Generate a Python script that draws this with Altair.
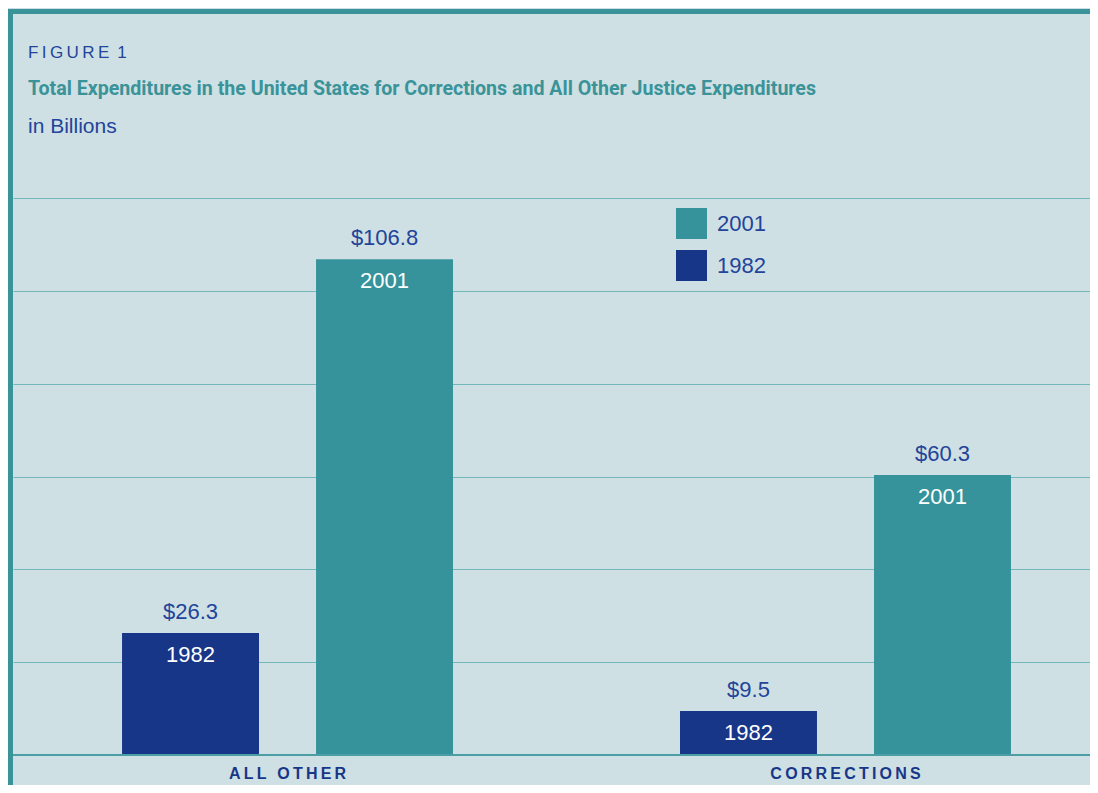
import altair as alt
import pandas as pd

categories = ["ALL OTHER", "ALL OTHER", "CORRECTIONS", "CORRECTIONS"]
years = ["1982", "2001", "1982", "2001"]
values = [26.3, 106.8, 9.5, 60.3]
value_labels = ["$26.3", "$106.8", "$9.5", "$60.3"]

title_lines = ["F\u2009I\u2009G\u2009U\u2009R\u2009E\u2009 1",
               "Total Expenditures in the United States for Corrections and All Other Justice Expenditures",
               "in Billions"]

df = pd.DataFrame({"cat": categories, "year": years, "value": values, "vlabel": value_labels})

TEAL = "#36939b"
NAVY = "#183688"
TEXTBLUE = "#22449a"
BG = "#cee0e3"
FONT = "Liberation Sans"

W, H = 1077, 557

xenc = alt.X("cat:N", title=None, sort=["ALL OTHER", "CORRECTIONS"],
             scale=alt.Scale(paddingInner=0.1236, paddingOuter=0.0269, align=1),
             axis=alt.Axis(labelAngle=0, ticks=False, domain=False,
                           labelFont=FONT, labelFontSize=16, labelFontWeight="bold",
                           labelColor=NAVY, labelPadding=10,
                           labelExpr="join(split(datum.label, ''), '\u2009')"))
xoff = alt.XOffset("year:N", sort=["1982", "2001"],
                   scale=alt.Scale(paddingInner=0.294, paddingOuter=0.4073))
yenc = alt.Y("value:Q", title=None, scale=alt.Scale(domain=[0, 120], nice=False),
             axis=alt.Axis(values=[0, 20, 40, 60, 80, 100, 120], labels=False, ticks=False,
                           domain=False, grid=True, gridColor="#74b7bb", gridWidth=1))

color = alt.Color("year:N", sort=["2001", "1982"],
                  scale=alt.Scale(domain=["2001", "1982"], range=[TEAL, NAVY]),
                  legend=alt.Legend(title=None, orient="none", legendX=663, legendY=10,
                                    symbolType="square", symbolSize=961, symbolStrokeWidth=0,
                                    symbolOpacity=1, labelFont=FONT, labelFontSize=22,
                                    labelColor=TEXTBLUE, rowPadding=11, labelOffset=10))

base = alt.Chart(df)

bars = base.mark_bar(opacity=1).encode(x=xenc, xOffset=xoff, y=yenc, color=color)

vlab = base.mark_text(font=FONT, fontSize=22, color=TEXTBLUE, baseline="alphabetic",
                      dy=-14).encode(x=xenc, xOffset=xoff, y=yenc, text="vlabel:N")

ylab = base.mark_text(font=FONT, fontSize=22, color="white", baseline="alphabetic",
                      dy=29).encode(x=xenc, xOffset=xoff, y=yenc, text="year:N")

baseline = alt.Chart(pd.DataFrame({"v": [0]})).mark_rule(color="#4a9ea4", strokeWidth=2).encode(
    y=alt.Y("v:Q", scale=alt.Scale(domain=[0, 120], nice=False)),
    x=alt.value(0), x2=alt.value(W))

t1 = alt.Chart(pd.DataFrame({"t": [title_lines[0]]})).mark_text(
    font=FONT, fontSize=17, color=TEXTBLUE, align="left", baseline="alphabetic").encode(
    text="t:N", x=alt.value(15), y=alt.value(-140))
t2 = alt.Chart(pd.DataFrame({"t": [title_lines[1]]})).mark_text(
    font="Liberation Sans Narrow, Roboto", fontSize=19.6, fontWeight="bold",
    color="#3a9399", align="left", baseline="alphabetic").encode(
    text="t:N", x=alt.value(15), y=alt.value(-103))
t3 = alt.Chart(pd.DataFrame({"t": [title_lines[2]]})).mark_text(
    font=FONT, fontSize=21, color=TEXTBLUE, align="left", baseline="alphabetic").encode(
    text="t:N", x=alt.value(15), y=alt.value(-65))

border_top = alt.Chart(pd.DataFrame({"v": [0]})).mark_rule(color="#3a9399", strokeWidth=5).encode(
    x=alt.value(-5), x2=alt.value(W + 10), y=alt.value(-186.5))
border_left = alt.Chart(pd.DataFrame({"v": [0]})).mark_rule(color="#3a9399", strokeWidth=5).encode(
    x=alt.value(-2.5), y=alt.value(-189), y2=alt.value(H + 40))

chart = alt.layer(bars, baseline, vlab, ylab, t1, t2, t3, border_top, border_left).properties(
    width=W, height=H, background=BG,
    padding={"left": 5, "top": 190, "right": 0, "bottom": 30},
    autosize=alt.AutoSizeParams(type="none"),
).configure_view(strokeOpacity=0).configure_axis(gridOpacity=1)

chart.save("out.html", embed_options={"renderer": "svg", "actions": False})
